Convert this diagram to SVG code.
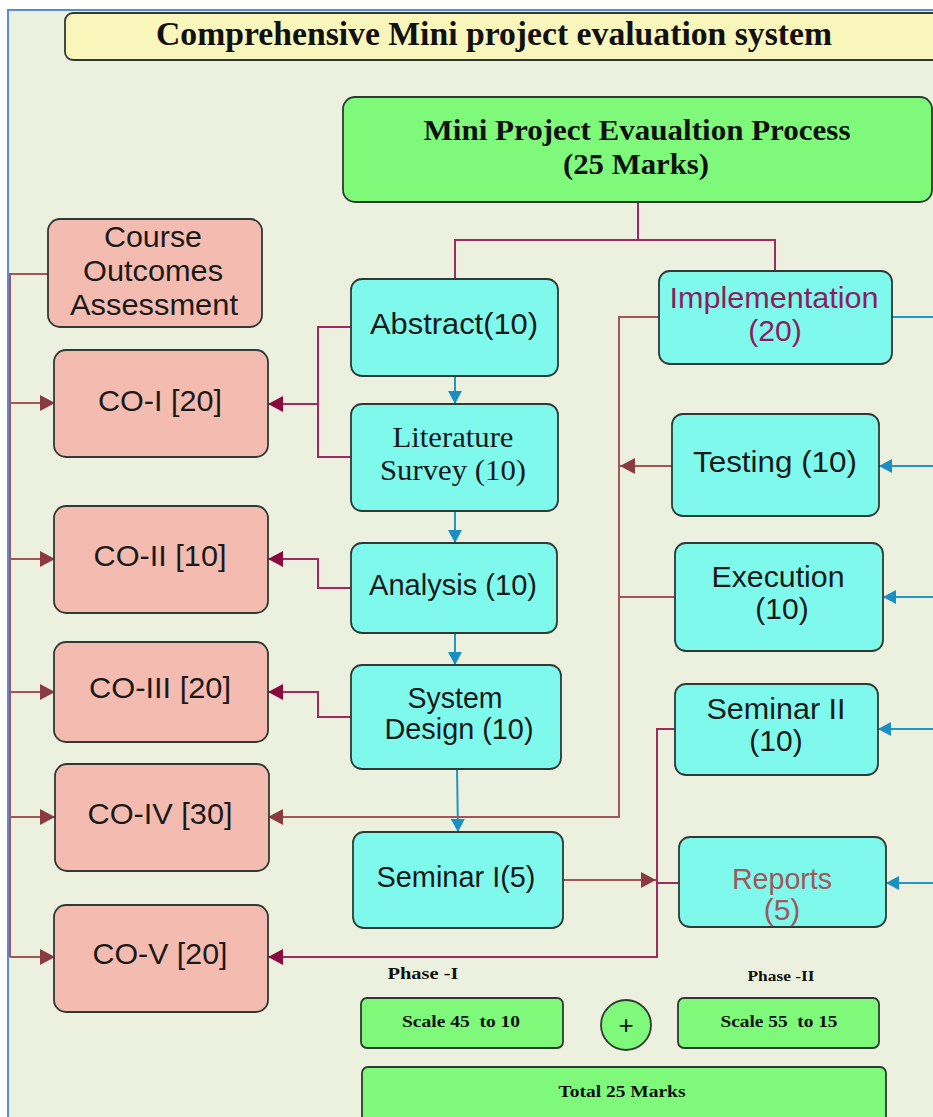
<svg xmlns="http://www.w3.org/2000/svg" width="933" height="1117" viewBox="0 0 933 1117">
<defs>
<style>
.box{stroke:#2f3a35;stroke-width:1.8}
.cyan{fill:#7ef9ec}
.salmon{fill:#f4bcb0}
.green{fill:#7ef97a}
.sans{font-family:"Liberation Sans",Arial,sans-serif;font-size:30px;fill:#1a1a1a;text-anchor:middle}
.serif{font-family:"Liberation Serif","Times New Roman",serif;font-size:29px;fill:#1a1a1a;text-anchor:middle}
.bold{font-family:"Liberation Serif","Times New Roman",serif;font-weight:bold;fill:#111;text-anchor:middle}
.c-top{stroke:#9e2a62;stroke-width:2;fill:none}
.c-co{stroke:#9e2a62;stroke-width:2;fill:none}
.c-br{stroke:#a3555c;stroke-width:2;fill:none}
.c-bl{stroke:#2196c8;stroke-width:2;fill:none}
</style>
<marker id="ab" markerUnits="userSpaceOnUse" markerWidth="14" markerHeight="14" refX="13" refY="7" orient="auto"><path d="M0,0 L13,7 L0,14 z" fill="#1a8fc4"/></marker>
<marker id="ac" markerUnits="userSpaceOnUse" markerWidth="16" markerHeight="16" refX="15" refY="8" orient="auto"><path d="M0,0 L15,8 L0,16 z" fill="#8a0a3e"/></marker>
<marker id="abr" markerUnits="userSpaceOnUse" markerWidth="16" markerHeight="16" refX="15" refY="8" orient="auto"><path d="M0,0 L15,8 L0,16 z" fill="#8b3a42"/></marker>
</defs>

<rect x="0" y="0" width="933" height="1117" fill="#ffffff"/>
<rect x="8" y="10" width="940" height="1120" fill="#ebf1de"/>
<path d="M8,1117 L8,10 L933,10" stroke="#5b8bd0" stroke-width="2" fill="none"/>

<g id="connectors">
  <!-- top tree -->
  <path class="c-top" d="M638,202 V240 M455,279 V240 H775 V271"/>
  <!-- left rail from course outcomes -->
  <path class="c-br" d="M48,274 H10 V957"/>
  <path class="c-br" d="M10,403 H55" marker-end="url(#abr)"/>
  <path class="c-br" d="M10,559 H55" marker-end="url(#abr)"/>
  <path class="c-br" d="M10,692 H55" marker-end="url(#abr)"/>
  <path class="c-br" d="M10,817 H55" marker-end="url(#abr)"/>
  <path class="c-br" d="M10,957 H55" marker-end="url(#abr)"/>
  <!-- phase I to CO -->
  <path class="c-co" d="M351,327 H318 V457 H351"/>
  <path class="c-co" d="M318,404 H268" marker-end="url(#ac)"/>
  <path class="c-co" d="M351,588 H318 V559 H268" marker-end="url(#ac)"/>
  <path class="c-co" d="M351,717 H318 V692 H268" marker-end="url(#ac)"/>
  <!-- phase I chain -->
  <path class="c-bl" d="M455,376 V404" marker-end="url(#ab)"/>
  <path class="c-bl" d="M455,511 V543" marker-end="url(#ab)"/>
  <path class="c-bl" d="M455,633 V665" marker-end="url(#ab)"/>
  <path class="c-bl" d="M457,769 L458,832" marker-end="url(#ab)"/>
  <!-- implementation group to CO-IV -->
  <path class="c-br" d="M659,317 H619 V817 H268" marker-end="url(#abr)"/>
  <path class="c-br" d="M672,466 H620" marker-end="url(#abr)"/>
  <path class="c-br" d="M675,597 H619"/>
  <!-- seminar / reports to CO-V -->
  <path class="c-br" d="M563,880 H656" marker-end="url(#abr)"/>
  <path class="c-co" d="M675,729 H657 V957 H268" marker-end="url(#ac)"/>
  <path class="c-co" d="M679,883 H657"/>
  <!-- incoming blue from right -->
  <path class="c-bl" d="M892,317 H933"/>
  <path class="c-bl" d="M933,466 H879" marker-end="url(#ab)"/>
  <path class="c-bl" d="M933,597 H883" marker-end="url(#ab)"/>
  <path class="c-bl" d="M933,729 H878" marker-end="url(#ab)"/>
  <path class="c-bl" d="M933,883 H886" marker-end="url(#ab)"/>
</g>

<g id="title">
  <rect class="box" x="65" y="13" width="890" height="47" rx="8" fill="#f9f6bc"/>
  <text class="bold" x="494" y="45" font-size="33" textLength="676" lengthAdjust="spacingAndGlyphs">Comprehensive Mini project evaluation system</text>
</g>

<g id="mini-project">
  <rect class="box green" x="343" y="97" width="589" height="105" rx="12"/>
  <text class="bold" x="637" y="140" font-size="30" textLength="427" lengthAdjust="spacingAndGlyphs">Mini Project Evaualtion Process</text>
  <text class="bold" x="636" y="174" font-size="30" textLength="146" lengthAdjust="spacingAndGlyphs">(25 Marks)</text>
</g>

<g id="course-outcomes">
  <rect class="box salmon" x="48" y="219" width="214" height="108" rx="12"/>
  <text class="sans" x="153" y="247" textLength="98" lengthAdjust="spacingAndGlyphs">Course</text>
  <text class="sans" x="153" y="281" textLength="140" lengthAdjust="spacingAndGlyphs">Outcomes</text>
  <text class="sans" x="154" y="315" textLength="168" lengthAdjust="spacingAndGlyphs">Assessment</text>
</g>

<g id="co1"><rect class="box salmon" x="54" y="350" width="214" height="107" rx="12"/><text class="sans" x="160" y="411" textLength="124" lengthAdjust="spacingAndGlyphs">CO-I [20]</text></g>
<g id="co2"><rect class="box salmon" x="54" y="506" width="214" height="107" rx="12"/><text class="sans" x="160" y="566" textLength="133" lengthAdjust="spacingAndGlyphs">CO-II [10]</text></g>
<g id="co3"><rect class="box salmon" x="54" y="642" width="214" height="100" rx="12"/><text class="sans" x="160" y="698" textLength="142" lengthAdjust="spacingAndGlyphs">CO-III [20]</text></g>
<g id="co4"><rect class="box salmon" x="55" y="764" width="214" height="107" rx="12"/><text class="sans" x="160" y="824" textLength="145" lengthAdjust="spacingAndGlyphs">CO-IV [30]</text></g>
<g id="co5"><rect class="box salmon" x="54" y="905" width="214" height="107" rx="12"/><text class="sans" x="160" y="964" textLength="135" lengthAdjust="spacingAndGlyphs">CO-V [20]</text></g>

<g id="abstract"><rect class="box cyan" x="351" y="279" width="207" height="97" rx="11"/><text class="sans" x="454" y="334" textLength="168" lengthAdjust="spacingAndGlyphs">Abstract(10)</text></g>
<g id="literature"><rect class="box cyan" x="351" y="404" width="207" height="107" rx="11"/><text class="serif" x="453" y="447" textLength="121" lengthAdjust="spacingAndGlyphs">Literature</text><text class="serif" x="453" y="480" textLength="146" lengthAdjust="spacingAndGlyphs">Survey (10)</text></g>
<g id="analysis"><rect class="box cyan" x="351" y="543" width="206" height="90" rx="11"/><text class="sans" x="453" y="595" textLength="168" lengthAdjust="spacingAndGlyphs">Analysis (10)</text></g>
<g id="system-design"><rect class="box cyan" x="351" y="665" width="210" height="104" rx="11"/><text class="sans" x="455" y="708" textLength="95" lengthAdjust="spacingAndGlyphs">System</text><text class="sans" x="459" y="739" textLength="149" lengthAdjust="spacingAndGlyphs">Design (10)</text></g>
<g id="seminar1"><rect class="box cyan" x="353" y="832" width="210" height="96" rx="11"/><text class="sans" x="456" y="887" textLength="159" lengthAdjust="spacingAndGlyphs">Seminar I(5)</text></g>

<g id="implementation"><rect class="box cyan" x="659" y="271" width="233" height="93" rx="11"/><text class="sans" x="774" y="308" fill="#8b1e5e" style="fill:#8b1e5e" textLength="209" lengthAdjust="spacingAndGlyphs">Implementation</text><text class="sans" x="775" y="341" style="fill:#8b1e5e">(20)</text></g>
<g id="testing"><rect class="box cyan" x="672" y="414" width="207" height="102" rx="11"/><text class="sans" x="775" y="472" textLength="164" lengthAdjust="spacingAndGlyphs">Testing (10)</text></g>
<g id="execution"><rect class="box cyan" x="675" y="543" width="208" height="108" rx="11"/><text class="sans" x="778" y="587" textLength="133" lengthAdjust="spacingAndGlyphs">Execution</text><text class="sans" x="782" y="619">(10)</text></g>
<g id="seminar2"><rect class="box cyan" x="675" y="684" width="203" height="91" rx="11"/><text class="sans" x="776" y="719" textLength="139" lengthAdjust="spacingAndGlyphs">Seminar II</text><text class="sans" x="776" y="751">(10)</text></g>
<g id="reports"><rect class="box cyan" x="679" y="837" width="207" height="90" rx="11"/><text class="sans" x="782" y="889" style="fill:#a0585a" textLength="100" lengthAdjust="spacingAndGlyphs">Reports</text><text class="sans" x="782" y="920" style="fill:#a0585a">(5)</text></g>

<g id="phase1">
  <text class="bold" x="423" y="979" font-size="17" textLength="71" lengthAdjust="spacingAndGlyphs">Phase -I</text>
  <rect class="box green" x="361" y="998" width="202" height="50" rx="6"/>
  <text class="bold" x="461" y="1027" font-size="16" textLength="118" lengthAdjust="spacingAndGlyphs" xml:space="preserve">Scale 45  to 10</text>
</g>
<g id="plus">
  <circle class="box green" cx="626" cy="1025" r="25"/>
  <text x="626" y="1034" font-family="Liberation Sans, Arial, sans-serif" font-size="26" text-anchor="middle" fill="#111">+</text>
</g>
<g id="phase2">
  <text class="bold" x="781" y="981" font-size="15" textLength="67" lengthAdjust="spacingAndGlyphs">Phase -II</text>
  <rect class="box green" x="678" y="998" width="201" height="50" rx="6"/>
  <text class="bold" x="779" y="1027" font-size="16" textLength="117" lengthAdjust="spacingAndGlyphs" xml:space="preserve">Scale 55  to 15</text>
</g>
<g id="total">
  <rect class="box green" x="362" y="1067" width="524" height="70" rx="6"/>
  <text class="bold" x="622" y="1097" font-size="17" textLength="127" lengthAdjust="spacingAndGlyphs">Total 25 Marks</text>
</g>
</svg>
